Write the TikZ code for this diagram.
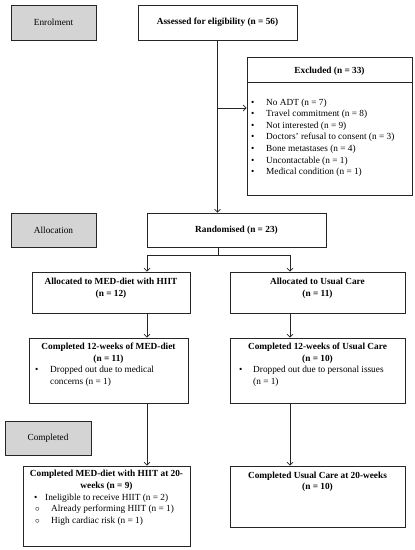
\documentclass[tikz,border=0pt]{standalone}
\usepackage{fontspec}
\setmainfont{Liberation Serif}
\usetikzlibrary{arrows.meta}
\newcommand{\fsz}{\fontsize{9.3}{11.6}\selectfont}
\newcommand{\bul}{\makebox[15pt][l]{\textbullet}}
\begin{document}
\begin{tikzpicture}[x=1pt,y=-1pt,
  box/.style={draw=black!85, line width=0.7pt, inner sep=0, rectangle},
  phase/.style={box, fill=black!17},
  txt/.style={font=\fsz, inner sep=0, align=center},
  ltxt/.style={font=\fsz, inner sep=0, align=left, anchor=north west},
  arr/.style={-{Straight Barb[length=3pt,width=6pt]}, line width=0.7pt, draw=black!85},
  ln/.style={line width=0.7pt, draw=black!85}]
\useasboundingbox (0,0) rectangle (415,550);
% boxes
\node[phase, minimum width=85, minimum height=35] (enr) at (53.5,22.5) {};
\node[txt] (enrt) at (enr.center) {Enrolment};
\node[box, minimum width=159, minimum height=35] (ass) at (217.5,22.5) {};
\node[txt] (asst) at (ass.center) {\textbf{Assessed for eligibility (n = 56)}};
\node[box, minimum width=165, minimum height=138] (exc) at (329.5,126) {};
\draw[ln] (247,82) -- (412,82);
\node[txt] (exct) at (329.5,71) {\textbf{Excluded (n = 33)}};
\node[ltxt] (excl) at (251,98.5) {\bul No ADT (n = 7)\\ \bul Travel commitment (n = 8)\\ \bul Not interested (n = 9)\\ \bul Doctors' refusal to consent (n = 3)\\ \bul Bone metastases (n = 4)\\ \bul Uncontactable (n = 1)\\ \bul Medical condition (n = 1)};
\node[phase, minimum width=85, minimum height=34] (alc) at (53.5,230) {};
\node[txt] (alct) at (alc.center) {Allocation};
\node[box, minimum width=179, minimum height=34] (rnd) at (236.5,230) {};
\node[txt] (rndt) at (rnd.center) {\textbf{Randomised (n = 23)}};
\node[box, minimum width=158, minimum height=41] (meda) at (111,292.5) {};
\node[txt, anchor=north] (medat) at (111,278) {\textbf{Allocated to MED-diet with HIIT}\\ \textbf{(n = 12)}};
\node[box, minimum width=175, minimum height=41] (uca) at (317.5,292.5) {};
\node[txt, anchor=north] (ucat) at (317.5,278) {\textbf{Allocated to Usual Care}\\ \textbf{(n = 11)}};
\node[box, minimum width=159, minimum height=65] (medb) at (108.5,370.5) {};
\node[txt, anchor=north] (medbt) at (108.5,343) {\textbf{Completed 12-weeks of MED-diet}\\ \textbf{(n = 11)}};
\node[ltxt] (medbl) at (35,366) {\bul Dropped out due to medical\\ \hspace*{15pt}concerns (n = 1)};
\node[box, minimum width=175, minimum height=65] (ucb) at (317.5,370.5) {};
\node[txt, anchor=north] (ucbt) at (317.5,343) {\textbf{Completed 12-weeks of Usual Care}\\ \textbf{(n = 10)}};
\node[ltxt] (ucbl) at (239,366) {\makebox[14pt][l]{\textbullet}Dropped out due to personal issues\\ \hspace*{14pt}(n = 1)};
\node[phase, minimum width=86, minimum height=34] (cmp) at (48,438) {};
\node[txt] (cmpt) at (cmp.center) {Completed};
\node[box, minimum width=167, minimum height=80] (medc) at (106.5,506) {};
\node[txt, anchor=north] (medct) at (106.5,470) {\textbf{Completed MED-diet with HIIT at 20-}\\ \textbf{weeks (n = 9)}};
\node[ltxt] (medcl) at (34,493.5) {\makebox[11pt][l]{\textbullet}Ineligible to receive HIIT (n = 2)\\ \makebox[17pt][l]{\hspace*{1pt}$\circ$}Already performing HIIT (n = 1)\\ \makebox[17pt][l]{\hspace*{1pt}$\circ$}High cardiac risk (n = 1)};
\node[box, minimum width=175, minimum height=61] (ucc) at (317.5,496.5) {};
\node[txt, anchor=north] (ucct) at (317.5,471.5) {\textbf{Completed Usual Care at 20-weeks}\\ \textbf{(n = 10)}};
% connectors
\coordinate (sp) at (218,255);
\coordinate (sl) at (147,255);
\coordinate (sr) at (290,255);
\coordinate (ex) at (218,108);
\draw[arr] (ass.south) -- (ass.south |- rnd.north);
\draw[arr] (ex) -- (exc.west |- ex);
\draw[ln] (sp |- rnd.south) -- (sp);
\draw[ln] (sl) -- (sr);
\draw[arr] (sl) -- (sl |- meda.north);
\draw[arr] (sr) -- (sr |- uca.north);
\draw[arr] (sl |- meda.south) -- (sl |- medb.north);
\draw[arr] (sr |- uca.south) -- (sr |- ucb.north);
\draw[arr] (sl |- medb.south) -- (sl |- medc.north);
\draw[arr] (sr |- ucb.south) -- (sr |- ucc.north);
\end{tikzpicture}
\end{document}
